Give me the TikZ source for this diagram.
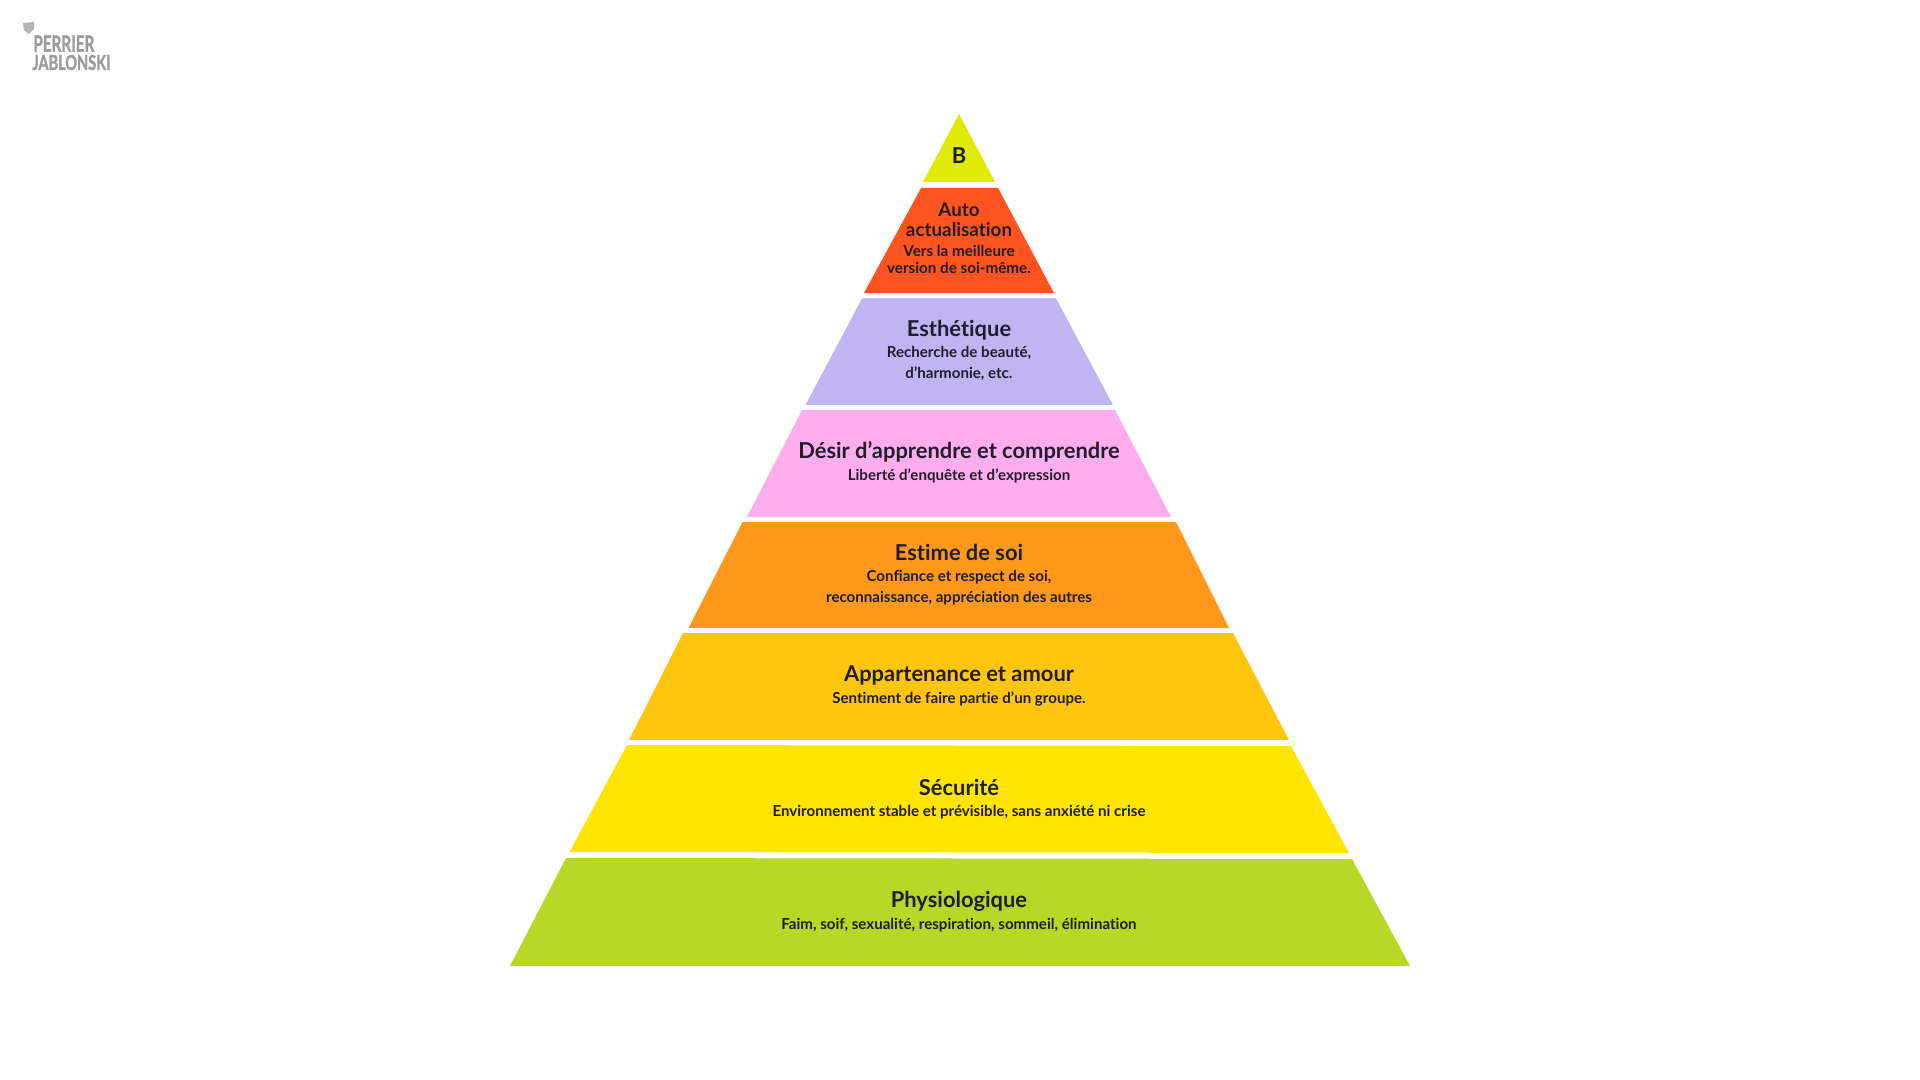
\documentclass[tikz,border=0pt]{standalone}
\usepackage{fontspec}
\setmainfont{Lato}[BoldFont={Lato Bold},Ligatures=NoCommon]
\newfontfamily\logofont{Lato Bold}[FakeBold=1.6]
\definecolor{inktext}{HTML}{1E1E2C}
\definecolor{logogray}{HTML}{9B9B9B}
\definecolor{topcol}{HTML}{DFEB00}
\definecolor{autocol}{HTML}{FF5420}
\definecolor{esthcol}{HTML}{C1B4F2}
\definecolor{desircol}{HTML}{FFADEC}
\definecolor{estimecol}{HTML}{FF981B}
\definecolor{appartcol}{HTML}{FFC50F}
\definecolor{securcol}{HTML}{FFE500}
\definecolor{physiocol}{HTML}{B8D726}
\begin{document}
\begin{tikzpicture}[
    x=0.5pt, y=-0.5pt,
    title/.style={inner sep=0pt, align=center, text=inktext, font=\bfseries\fontsize{10.95}{9.8}\selectfont},
    autotitle/.style={title, font=\bfseries\fontsize{9.4}{9.8}\selectfont},
    sub/.style={inner sep=0pt, align=center, text=inktext, font=\bfseries\fontsize{7.55}{10.2}\selectfont},
    autosub/.style={sub, font=\bfseries\fontsize{7.6}{8.5}\selectfont},
    logotext/.style={inner sep=0pt, anchor=south west, text=logogray, font=\logofont}
]
\useasboundingbox[fill=white] (0,0) rectangle (1920,1080);

\fill[topcol] (959,114) -- (995,182) -- (923,182) -- cycle;
\fill[autocol] (921,188) -- (998,188) -- (1054,293) -- (864,293) -- cycle;
\fill[esthcol] (862,298.5) -- (1056,298.5) -- (1113,405) -- (805.5,405) -- cycle;
\fill[desircol] (802,410) -- (1115,410) -- (1171,517) -- (747,517) -- cycle;
\fill[estimecol] (742.5,522) -- (1176,522) -- (1229,628) -- (688.5,628) -- cycle;
\fill[appartcol] (683,633) -- (1233,633) -- (1289,740) -- (629,740) -- cycle;
\fill[securcol] (627,745) -- (1291,746) -- (1349,853) -- (569.5,852) -- cycle;
\fill[physiocol] (566,858) -- (1352,859) -- (1410,966) -- (510,966) -- cycle;

\node[title] (b) at (959,155.5) {B};
\node[autotitle] (auto) at (959,219.5) {Auto\\actualisation};
\node[autosub] (autovers) at (959,259.5) {Vers la meilleure\\version de soi-même.};
\node[title] (esth) at (959,330) {Esthétique};
\node[sub] (esthsub) at (959,363.5) {Recherche de beauté,\\d’harmonie, etc.};
\node[title] (desir) at (959,452) {Désir d’apprendre et comprendre};
\node[sub] (desirsub) at (959,476) {Liberté d’enquête et d’expression};
\node[title] (estime) at (959,552.5) {Estime de soi};
\node[sub] (estimesub) at (959,587.5) {Confiance et respect de soi,\\reconnaissance, appréciation des autres};
\node[title] (appart) at (959,675.5) {Appartenance et amour};
\node[sub] (appartsub) at (959,699) {Sentiment de faire partie d’un groupe.};
\node[title] (secur) at (959,787) {Sécurité};
\node[sub] (secursub) at (959,812.5) {Environnement stable et prévisible, sans anxiété ni crise};
\node[title] (physio) at (959,901) {Physiologique};
\node[sub] (physiosub) at (959,925.5) {Faim, soif, sexualité, respiration, sommeil, élimination};

\fill[logogray!75] (23,23) -- (34,22) -- (34,29) -- (29,34) -- (24,30) -- cycle;
\node[logotext] (perrier) at (33,52) {\resizebox{30.5pt}{8pt}{PERRIER}};
\node[logotext] (jablonski) at (32,70.5) {\resizebox{39pt}{7.5pt}{JABLONSKI}};
\end{tikzpicture}
\end{document}
